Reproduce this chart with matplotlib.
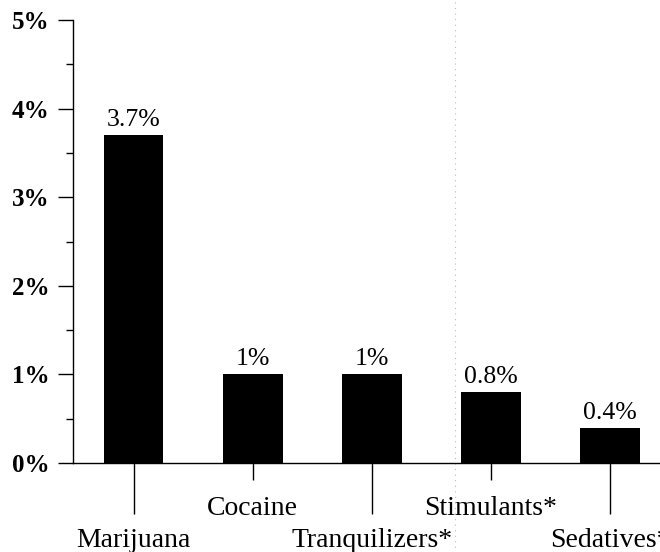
import matplotlib
matplotlib.use("Agg")
import matplotlib.pyplot as plt
from matplotlib.ticker import FuncFormatter, MultipleLocator

# ── Data ───────────────────────────────────────────────────────────────────────
drugs      = ["Marijuana", "Cocaine", "Tranquilizers*", "Stimulants*", "Sedatives*"]
pct_values = [3.7, 1.0, 1.0, 0.8, 0.4]
bar_labels = ["3.7%", "1%", "1%", "0.8%", "0.4%"]

plt.rcParams["font.family"] = ["Liberation Serif", "DejaVu Serif"]

fig = plt.figure(figsize=(6.6, 5.52), dpi=100)
ax = fig.add_axes([0.1106, 0.161, 0.8894, 0.8028])

pos = list(range(len(drugs)))
ax.bar(pos, pct_values, width=0.5, color="black", zorder=3)

for x, v, lab in zip(pos, pct_values, bar_labels):
    ax.annotate(lab, (x, v), xytext=(0, 3), textcoords="offset points",
                ha="center", va="bottom", fontsize=18.5)

# ── Axes styling ───────────────────────────────────────────────────────────────
ax.set_xlim(-0.51, 4.42)
ax.set_ylim(0, 5)
for side in ("top", "right"):
    ax.spines[side].set_visible(False)
ax.spines["left"].set_linewidth(1.0)
ax.spines["bottom"].set_linewidth(1.0)

ax.yaxis.set_major_locator(MultipleLocator(1))
ax.yaxis.set_minor_locator(MultipleLocator(0.5))
ax.yaxis.set_major_formatter(FuncFormatter(lambda v, _: f"{v:.0f}%"))
ax.tick_params(axis="y", which="major", length=11, width=1.0, pad=6,
               labelsize=18)
ax.tick_params(axis="y", which="minor", length=5, width=1.0)
for t in ax.get_yticklabels():
    t.set_fontweight("bold")

# long ticks for labels placed low, short ticks for labels placed high
low = [0, 2, 4]
high = [1, 3]
ax.set_xticks(low, [drugs[i] for i in low])
ax.set_xticks(high, [drugs[i] for i in high], minor=True)
ax.tick_params(axis="x", which="major", length=37, width=1.0, pad=10,
               labelsize=20)
ax.tick_params(axis="x", which="minor", length=12, width=1.0, pad=12,
               labelsize=20)

# faint fold line from the scanned page
ax.axvline(2.70, ymin=-0.25, ymax=1.05, color="#bbbbbb", lw=0.8,
           ls=(0, (1, 4)), clip_on=False, zorder=1)

fig.savefig("out.png", dpi=100)
